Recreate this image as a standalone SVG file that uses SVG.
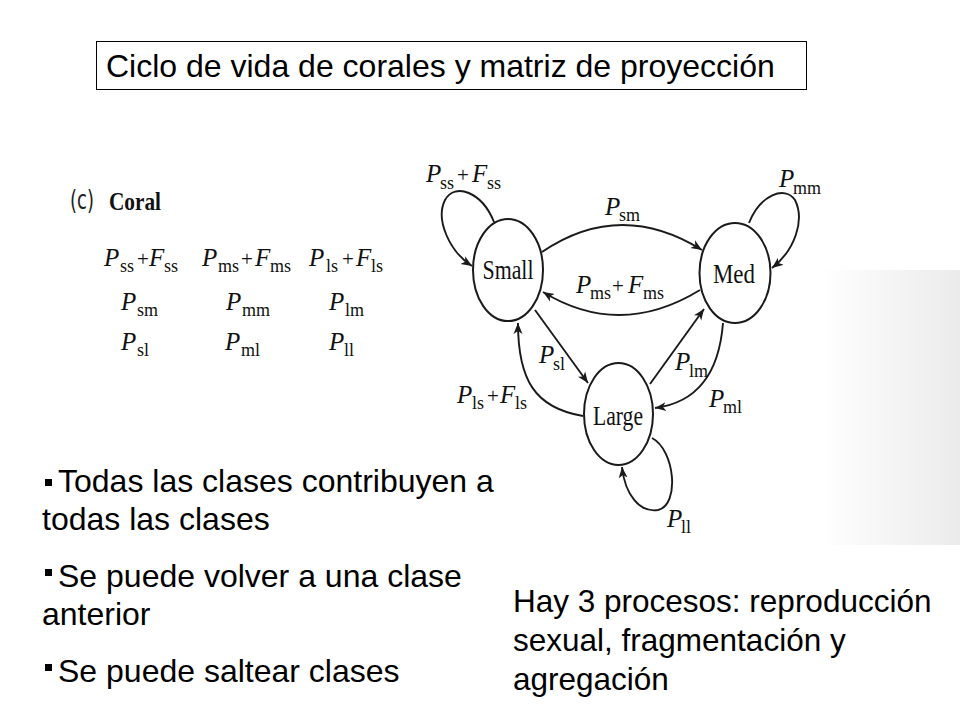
<svg xmlns="http://www.w3.org/2000/svg" width="960" height="720" viewBox="0 0 960 720">
<style>
.sans{font-family:"Liberation Sans",Arial,sans-serif;fill:#000}
.t32{font-size:32px}
.P{font-family:"Liberation Serif","Times New Roman",serif;font-style:italic;font-size:25px;fill:#111}
.s{font-family:"Liberation Serif","Times New Roman",serif;font-size:18px;fill:#111}
.pl{font-family:"Liberation Serif","Times New Roman",serif;font-size:21px;fill:#111}
.node{fill:none;stroke:#1a1a1a;stroke-width:2}
.nl{font-family:"Liberation Serif","Times New Roman",serif;font-size:27px;fill:#111;text-anchor:middle}
.edge{fill:none;stroke:#1a1a1a;stroke-width:1.9}
</style>
<defs>
<marker id="ah" markerUnits="userSpaceOnUse" markerWidth="12" markerHeight="10" refX="11" refY="5" orient="auto">
<path d="M0,0.5 L11,5 L0,9.5 L3,5 z" fill="#1a1a1a"/>
</marker>
<linearGradient id="scan" x1="0" y1="0" x2="1" y2="0">
<stop offset="0" stop-color="#ffffff"/>
<stop offset="1" stop-color="#ebebeb"/>
</linearGradient>
</defs>
<rect width="960" height="720" fill="#fff"/>
<rect x="820" y="270" width="140" height="275" fill="url(#scan)"/>

<g id="title">
<rect x="96.500" y="41.500" width="710" height="48" fill="none" stroke="#000" stroke-width="1"/>
<text class="sans t32" x="106" y="77">Ciclo de vida de corales y matriz de proyección</text>
</g>

<g id="matrix">
<text x="70" y="209" font-family="'DejaVu Sans','Liberation Sans',sans-serif" font-size="26" fill="#222" textLength="24" lengthAdjust="spacingAndGlyphs">(c)</text>
<text x="109" y="210" font-family="'Liberation Serif',serif" font-weight="bold" font-size="26" fill="#111" textLength="52" lengthAdjust="spacingAndGlyphs">Coral</text>
<!-- row 1 -->
<text class="P" x="104" y="266">P</text><text class="s" x="120" y="272">ss</text><text class="pl" x="137" y="266">+</text><text class="P" x="149" y="266">F</text><text class="s" x="164" y="272">ss</text>
<text class="P" x="202" y="266">P</text><text class="s" x="218" y="272">ms</text><text class="pl" x="241" y="266">+</text><text class="P" x="255" y="266">F</text><text class="s" x="270" y="272">ms</text>
<text class="P" x="309" y="266">P</text><text class="s" x="326" y="272">ls</text><text class="pl" x="342" y="266">+</text><text class="P" x="356" y="266">F</text><text class="s" x="371" y="272">ls</text>
<!-- row 2 -->
<text class="P" x="121" y="310">P</text><text class="s" x="137" y="316">sm</text>
<text class="P" x="226" y="310">P</text><text class="s" x="242" y="316">mm</text>
<text class="P" x="329" y="310">P</text><text class="s" x="345" y="316">lm</text>
<!-- row 3 -->
<text class="P" x="121" y="350">P</text><text class="s" x="137" y="356">sl</text>
<text class="P" x="225" y="350">P</text><text class="s" x="241" y="356">ml</text>
<text class="P" x="329" y="350">P</text><text class="s" x="344" y="356">ll</text>
</g>

<g id="connectors">
<path class="edge" marker-end="url(#ah)" d="M494,222 C482,192 455,182 445,200 C435,220 450,252 472,266"/>
<path class="edge" marker-end="url(#ah)" d="M542,252 Q620,199 702,250"/>
<path class="edge" marker-end="url(#ah)" d="M700,290 Q620,339 543,292"/>
<path class="edge" marker-end="url(#ah)" d="M749,223 C760,195 785,185 795,200 C805,220 795,250 772,268"/>
<path class="edge" marker-end="url(#ah)" d="M535,310 L588,383"/>
<path class="edge" marker-end="url(#ah)" d="M583,416 C535,408 518,380 518,323"/>
<path class="edge" marker-end="url(#ah)" d="M650,384 L704,309"/>
<path class="edge" marker-end="url(#ah)" d="M723,323 Q717,400 655,408"/>
<path class="edge" marker-end="url(#ah)" d="M652,438 C675,450 680,505 658,510 C640,513 625,495 622,467"/>
</g>

<g id="edge-labels">
<text class="P" x="426" y="182">P</text><text class="s" x="440" y="189">ss</text><text class="pl" x="457" y="182">+</text><text class="P" x="472" y="182">F</text><text class="s" x="487" y="189">ss</text>
<text class="P" x="605" y="215">P</text><text class="s" x="619" y="221">sm</text>
<text class="P" x="576" y="293">P</text><text class="s" x="590" y="299">ms</text><text class="pl" x="612" y="293">+</text><text class="P" x="628" y="293">F</text><text class="s" x="643" y="299">ms</text>
<text class="P" x="779" y="187">P</text><text class="s" x="793" y="194">mm</text>
<text class="P" x="539" y="363">P</text><text class="s" x="553" y="370">sl</text>
<text class="P" x="457" y="403">P</text><text class="s" x="472" y="409">ls</text><text class="pl" x="487" y="403">+</text><text class="P" x="500" y="403">F</text><text class="s" x="515" y="409">ls</text>
<text class="P" x="675" y="370">P</text><text class="s" x="689" y="377">lm</text>
<text class="P" x="709" y="407">P</text><text class="s" x="723" y="413">ml</text>
<text class="P" x="667" y="527">P</text><text class="s" x="681" y="533">ll</text>
</g>

<g id="small">
<ellipse class="node" cx="508" cy="270" rx="35" ry="51"/>
<text class="nl" x="508" y="279" textLength="51" lengthAdjust="spacingAndGlyphs">Small</text>
</g>
<g id="med">
<ellipse class="node" cx="735" cy="273" rx="35.500" ry="50"/>
<text class="nl" x="734" y="283" textLength="42" lengthAdjust="spacingAndGlyphs">Med</text>
</g>
<g id="large">
<ellipse class="node" cx="618.500" cy="414" rx="34.500" ry="51"/>
<text class="nl" x="618" y="425" textLength="50" lengthAdjust="spacingAndGlyphs">Large</text>
</g>

<g id="bullets">
<rect x="45" y="479" width="7" height="7" fill="#000"/>
<text class="sans t32" x="58" y="492">Todas las clases contribuyen a</text>
<text class="sans t32" x="42" y="530">todas las clases</text>
<rect x="45" y="569" width="7" height="7" fill="#000"/>
<text class="sans t32" x="58" y="587">Se puede volver a una clase</text>
<text class="sans t32" x="42" y="625">anterior</text>
<rect x="45" y="664" width="7" height="7" fill="#000"/>
<text class="sans t32" x="58" y="682">Se puede saltear clases</text>
</g>

<g id="note">
<text class="sans" font-size="31.5" x="513" y="612">Hay 3 procesos: reproducción</text>
<text class="sans" font-size="31.5" x="513" y="651">sexual, fragmentación y</text>
<text class="sans" font-size="31.5" x="513" y="690">agregación</text>
</g>
</svg>
